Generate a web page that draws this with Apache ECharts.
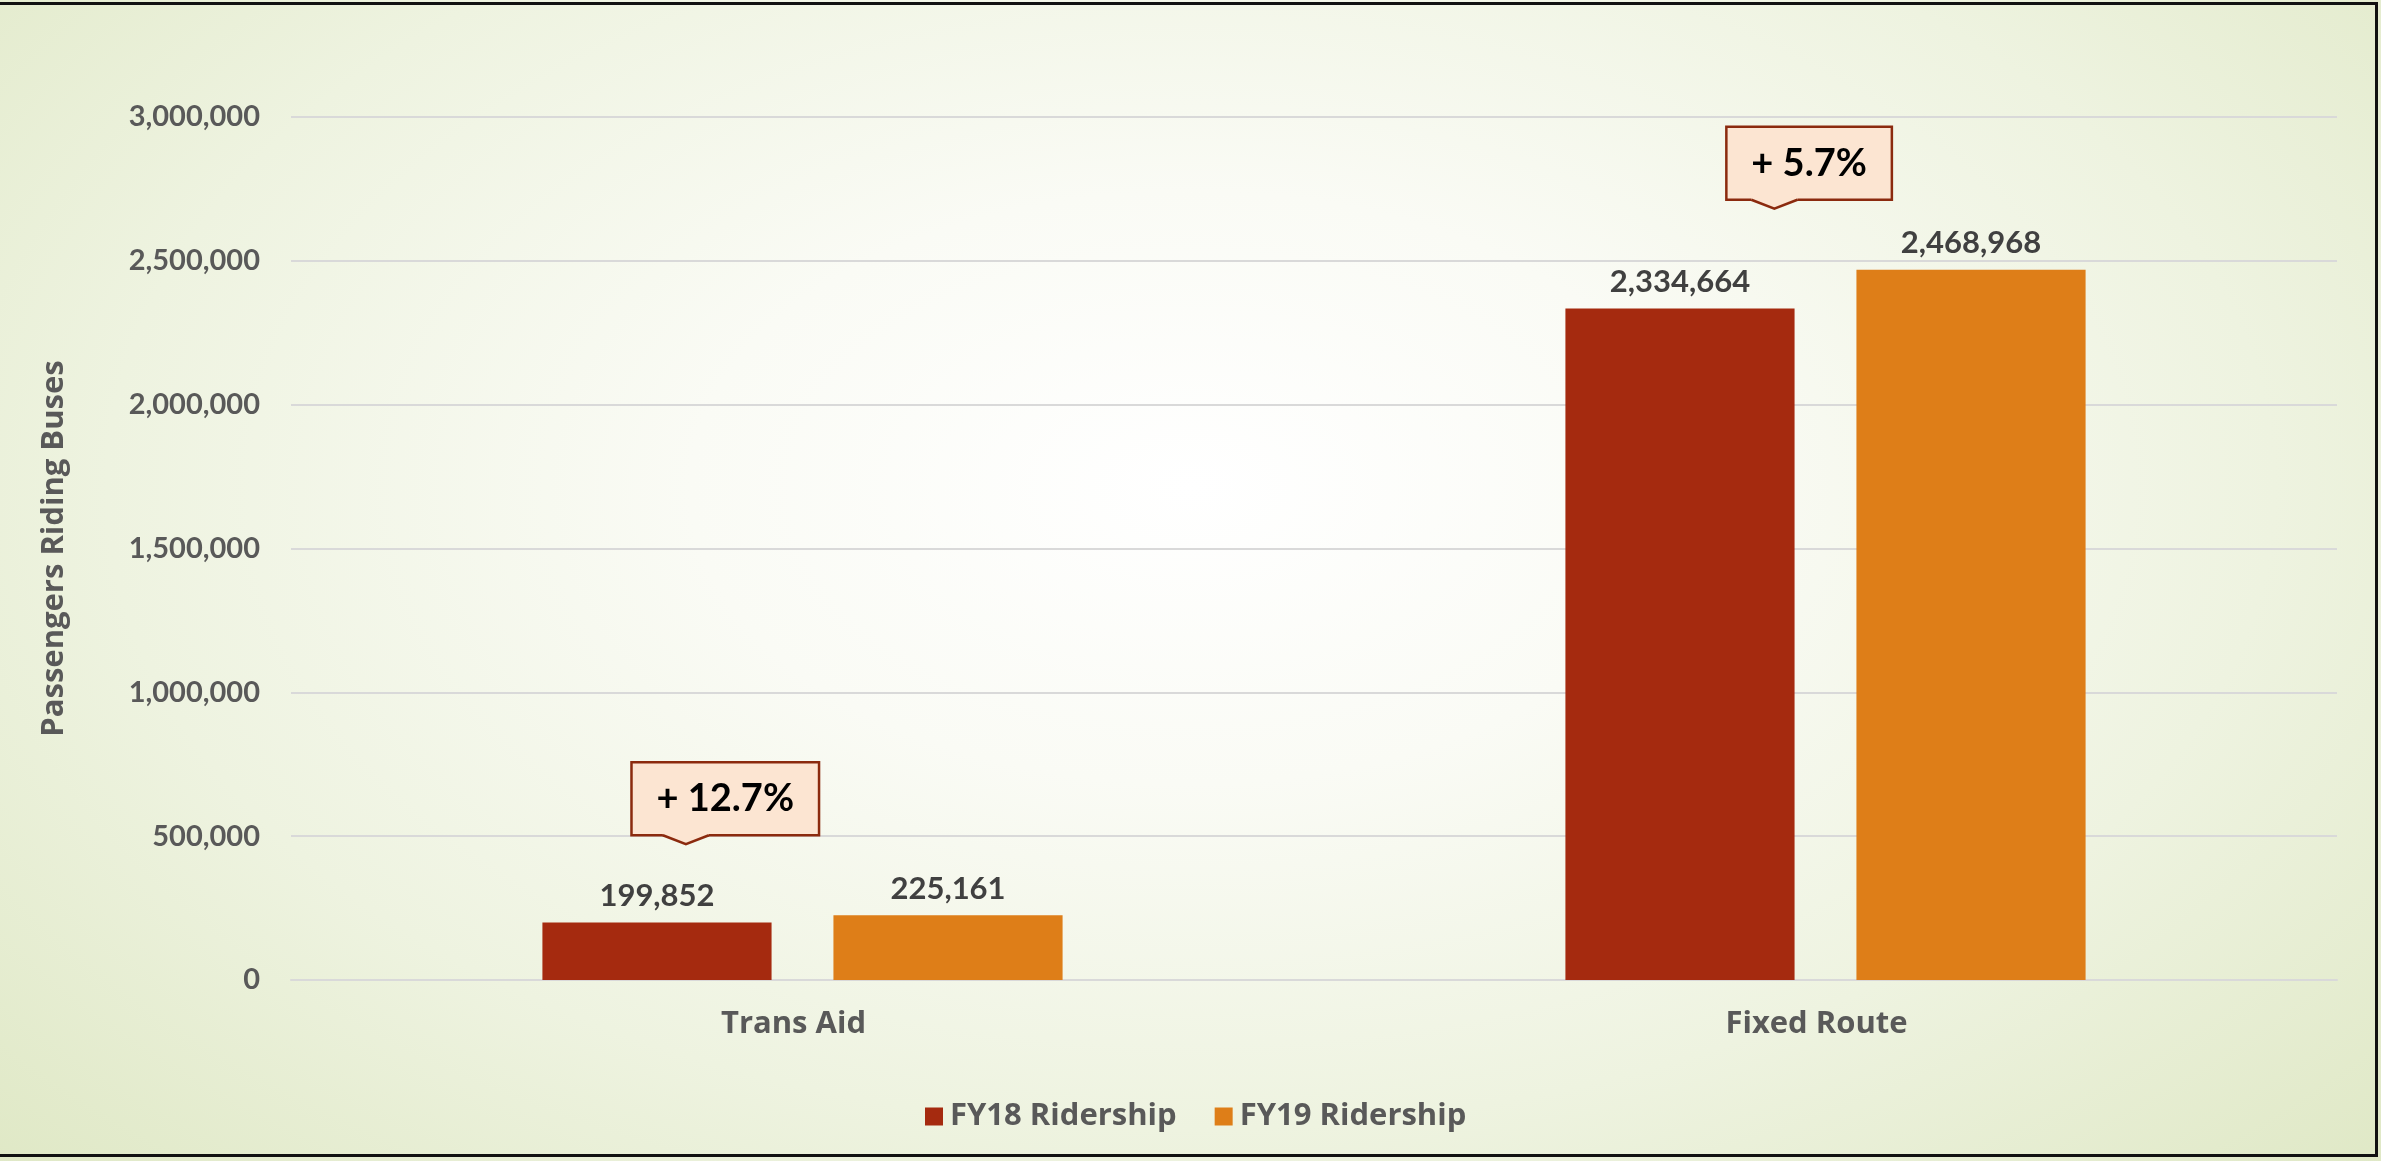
<!DOCTYPE html>
<html>
<head>
<meta charset="utf-8">
<script src="https://cdn.jsdelivr.net/npm/echarts@6/dist/echarts.min.js"></script>
<style>
  html, body { margin: 0; padding: 0; width: 2381px; height: 1161px; overflow: hidden; }
  body { background: radial-gradient(ellipse 70% 85% at 50% 42%, #ffffff 0%, #fafbf5 30%, #eef3e0 65%, #dfe8c5 100%); position: relative; }
  #chart { position: absolute; left: 0; top: 0; width: 2381px; height: 1161px; }
  #frame { position: absolute; left: -10px; top: 2px; width: 2388px; height: 1155px; box-sizing: border-box; border: 3px solid #111; pointer-events: none; }
</style>
</head>
<body>
<div id="chart"></div>
<div id="frame"></div>
<script>
const categories = ['Trans Aid', 'Fixed Route'];
const fy18 = [199852, 2334664];
const fy19 = [225161, 2468968];
const seriesNames = ['FY18 Ridership', 'FY19 Ridership'];
const calloutLabels = ['+ 12.7%', '+ 5.7%'];
const yTicks = { min: 0, max: 3000000, interval: 500000 };

// callout placement (layout only): shift of the pointer tip from category centre (fraction of band) and pixels above the taller bar
const calloutLayout = [{ shift: -0.114, lift: 71 }, { shift: -0.050, lift: 61 }];

const FONT = 'Lato, "Open Sans", sans-serif';
const WIDE = '"Open Sans", Lato, sans-serif';
const calloutFont = 'bold 38px ' + FONT;
const measureCtx = document.createElement('canvas').getContext('2d');
function textWidth(t, f) { measureCtx.font = f; return measureCtx.measureText(t).width; }

const fmt = v => v.toLocaleString('en-US');

const calloutData = categories.map((c, i) => [i, Math.max(fy18[i], fy19[i])]);

const chart = echarts.init(document.getElementById('chart'), null, { renderer: 'canvas' });
chart.setOption({
  backgroundColor: 'transparent',
  animation: false,
  grid: { left: 291, right: 44, top: 117, bottom: 181, containLabel: false },
  legend: {
    data: seriesNames,
    left: 920, top: 1096,
    itemWidth: 18, itemHeight: 18, itemGap: 38,
    icon: 'rect',
    textStyle: { fontFamily: WIDE, fontWeight: 'bold', fontSize: 31, color: '#595959', padding: [0, 0, 0, 2] }
  },
  xAxis: {
    type: 'category',
    data: categories,
    axisLine: { show: true, lineStyle: { color: '#d9d9d9', width: 2 } },
    axisTick: { show: false },
    axisLabel: { fontFamily: WIDE, fontWeight: 'bold', fontSize: 31, color: '#595959', margin: 29, padding: [0, 18, 0, 0] }
  },
  yAxis: {
    type: 'value',
    min: yTicks.min, max: yTicks.max, interval: yTicks.interval,
    name: 'Passengers Riding Buses',
    nameLocation: 'middle',
    nameRotate: 90,
    nameGap: 221,
    nameTextStyle: { fontFamily: WIDE, fontWeight: 'bold', fontSize: 31, color: '#595959' },
    axisLine: { show: false },
    axisTick: { show: false },
    splitLine: { lineStyle: { color: '#d9d9d9', width: 2 } },
    axisLabel: { fontFamily: FONT, fontWeight: 'bold', fontSize: 29, color: '#595959', margin: 31, formatter: v => fmt(v) }
  },
  series: [
    {
      name: seriesNames[0], type: 'bar', data: fy18,
      barWidth: '22.4%', barGap: '27%',
      itemStyle: { color: '#a52a0f' },
      label: { show: true, position: 'top', distance: 11, fontFamily: FONT, fontWeight: 'bold', fontSize: 31, color: '#404040', formatter: p => fmt(p.value) }
    },
    {
      name: seriesNames[1], type: 'bar', data: fy19,
      barWidth: '22.4%', barGap: '27%',
      itemStyle: { color: '#de7e18' },
      label: { show: true, position: 'top', distance: 11, fontFamily: FONT, fontWeight: 'bold', fontSize: 31, color: '#404040', formatter: p => fmt(p.value) }
    },
    {
      type: 'custom',
      silent: true,
      z: 10,
      data: calloutData,
      encode: { x: 0, y: 1 },
      renderItem: function (params, api) {
        const i = params.dataIndex;
        const label = calloutLabels[i];
        const lay = calloutLayout[i];
        const pt = api.coord([api.value(0), api.value(1)]);
        const band = api.size([1, 0])[0];
        const tipX = pt[0] + lay.shift * band;
        const tipY = pt[1] - lay.lift;
        const tw = textWidth(label, calloutFont);
        const boxW = tw + 50;
        const boxH = 73;
        const boxL = tipX - 0.29 * boxW;
        const boxB = tipY - 9;
        const boxT = boxB - boxH;
        const stroke = '#8b2a0e';
        const fill = '#fce5d2';
        return {
          type: 'group',
          children: [
            { type: 'rect', shape: { x: boxL, y: boxT, width: boxW, height: boxH }, style: { fill: fill, stroke: stroke, lineWidth: 2.5 } },
            { type: 'polygon', shape: { points: [[tipX - 23, boxB - 2], [tipX + 23, boxB - 2], [tipX + 23, boxB], [tipX, tipY], [tipX - 23, boxB]] }, style: { fill: fill, stroke: null } },
            { type: 'polyline', shape: { points: [[tipX - 23, boxB], [tipX, tipY], [tipX + 23, boxB]] }, style: { fill: null, stroke: stroke, lineWidth: 2.5 } },
            { type: 'text', style: { x: boxL + boxW / 2, y: boxT + boxH / 2, text: label, font: calloutFont, fill: '#000', align: 'center', verticalAlign: 'middle' } }
          ]
        };
      }
    }
  ]
});
</script>
</body>
</html>
